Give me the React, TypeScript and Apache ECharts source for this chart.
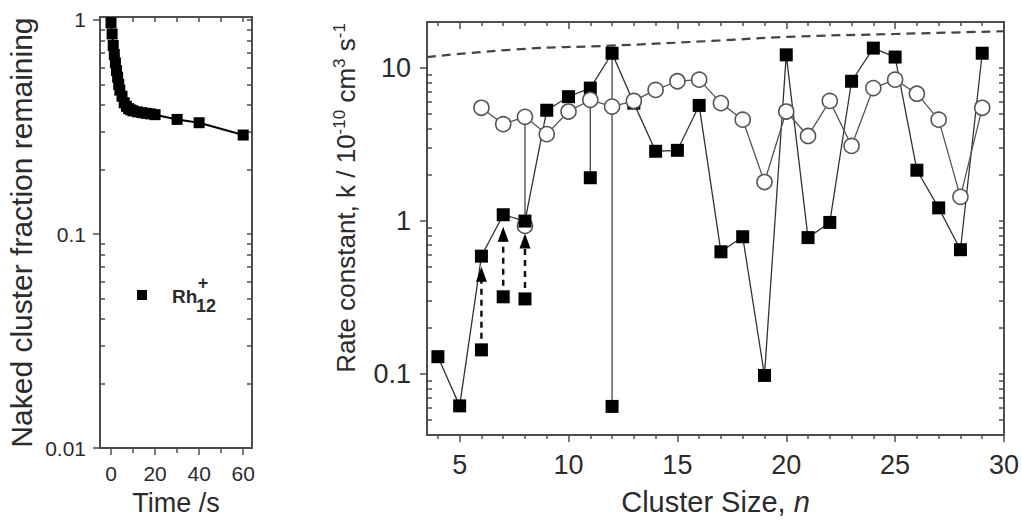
import React, { useEffect, useRef } from 'react';
import * as echarts from 'echarts';

// ---------- Left panel data (Rh12+ decay) ----------
const timeS = [0, 0.5, 1, 1.5, 2, 2.5, 3, 3.5, 4, 5, 6, 7, 8, 9, 10, 12, 14, 16, 18, 20, 30, 40, 60];
const fractionRemaining = [0.97, 0.86, 0.76, 0.69, 0.63, 0.58, 0.54, 0.5, 0.47, 0.44, 0.41, 0.395, 0.385, 0.38, 0.376, 0.372, 0.369, 0.366, 0.364, 0.361, 0.343, 0.331, 0.29];
const leftXLabels = [0, 20, 40, 60];
const leftXMinor = [10, 30, 50];
const leftXTop = [0, 10, 20, 30, 40, 50, 60];
const leftYLabels = [0.01, 0.1, 1];

// ---------- Right panel data (rate constants) ----------
const clusterSize = [4, 5, 6, 7, 8, 9, 10, 11, 12, 13, 14, 15, 16, 17, 18, 19, 20, 21, 22, 23, 24, 25, 26, 27, 28, 29];
const kFilled = [0.13, 0.062, 0.59, 1.1, 1.0, 5.3, 6.5, 7.4, 12.5, 5.9, 2.86, 2.9, 5.7, 0.63, 0.79, 0.098, 12.2, 0.78, 0.98, 8.2, 13.5, 11.8, 2.15, 1.22, 0.65, 12.5];
const clusterSizeOpen = [6, 7, 8, 9, 10, 11, 12, 13, 14, 15, 16, 17, 18, 19, 20, 21, 22, 23, 24, 25, 26, 27, 28, 29];
const kOpen = [5.5, 4.3, 4.8, 3.7, 5.2, 6.2, 5.6, 6.1, 7.2, 8.2, 8.4, 5.9, 4.6, 1.8, 5.2, 3.6, 6.1, 3.1, 7.4, 8.4, 6.8, 4.6, 1.44, 5.5];
const extraFilledN = [6, 7, 8, 11, 12];
const extraFilledK = [0.144, 0.32, 0.31, 1.92, 0.0615];
const triangleN = [6, 7, 8];
const triangleK = [0.45, 0.82, 0.74];
const extraOpenN = [8];
const extraOpenK = [0.93];
const solidLinkN = [8, 11, 12];
const solidLinkTop = [4.8, 7.4, 12.5];
const solidLinkBottom = [1.0, 1.92, 0.0615];
const dashLinkN = [6, 7, 8];
const dashLinkBottom = [0.144, 0.32, 0.31];
const dashLinkTop = [0.45, 0.82, 0.74];
const limitN = [3.5, 7.8, 11.9, 16.8, 20.1, 25, 30];
const limitK = [11.8, 13.3, 14.0, 15.1, 16.0, 16.7, 17.4];
const rightXLabels = [5, 10, 15, 20, 25, 30];
const rightXMinor = [4, 6, 7, 8, 9, 11, 12, 13, 14, 16, 17, 18, 19, 21, 22, 23, 24, 26, 27, 28, 29];
const rightYLabels = [0.1, 1, 10];

const leftYMinor: number[] = [];
for (const d of [0.01, 0.1]) for (let m = 2; m <= 9; m++) leftYMinor.push(+(m * d).toPrecision(2));
const rightYMinor: number[] = [];
for (const d of [0.01, 0.1, 1]) for (let m = 2; m <= 9; m++) {
  const v = +(m * d).toPrecision(2);
  if (v >= 0.04 && v <= 20) rightYMinor.push(v);
}

const FONT = "'Liberation Sans', Arial, Helvetica, sans-serif";
const AX = '#4d4d4d';
const TXT = '#2b2b2b';

const fmtLog = (v: number) => (v >= 1 ? String(Math.round(v)) : String(+v.toPrecision(2)));

function xAx(grid: number, min: number, max: number, o: any) {
  return {
    type: 'value', gridIndex: grid, min, max, position: o.position || 'bottom',
    splitLine: { show: false },
    axisLine: { show: o.line !== false, onZero: false, lineStyle: { color: AX, width: 2 } },
    axisTick: { show: true, inside: !!o.inside, length: o.len, customValues: o.ticks, lineStyle: { color: AX, width: 1.5 } },
    axisLabel: o.labels
      ? { show: true, customValues: o.labels, fontSize: o.fontSize, fontFamily: FONT, color: TXT, margin: o.margin }
      : { show: false },
    ...(o.extra || {}),
  };
}
function yAx(grid: number, min: number, max: number, o: any) {
  return {
    type: 'log', logBase: 10, gridIndex: grid, min, max, position: o.position || 'left',
    splitLine: { show: false },
    axisLine: { show: o.line !== false, onZero: false, lineStyle: { color: AX, width: 2 } },
    axisTick: { show: true, inside: !!o.inside, length: o.len, customValues: o.ticks, lineStyle: { color: AX, width: 1.5 } },
    axisLabel: o.labels
      ? { show: true, customValues: o.labels, fontSize: o.fontSize, fontFamily: FONT, color: TXT, margin: o.margin, formatter: (v: number) => fmtLog(v) }
      : { show: false },
    ...(o.extra || {}),
  };
}

export default function App() {
  const ref = useRef<HTMLDivElement>(null);
  useEffect(() => {
    if (!ref.current) return;
    const chart = echarts.init(ref.current, undefined, { renderer: 'svg' });

    const xAxis = [
      xAx(0, -5, 64, {
        ticks: leftXLabels, labels: leftXLabels, len: 7, fontSize: 21, margin: 15,
        extra: { name: 'Time /s', nameLocation: 'middle', nameGap: 37, nameTextStyle: { fontSize: 27, fontFamily: FONT, color: TXT } },
      }),
      xAx(0, -5, 64, { ticks: leftXMinor, len: 5, line: false }),
      xAx(0, -5, 64, { ticks: leftXTop, len: 5, inside: true, position: 'top' }),
      xAx(1, 3.5, 30, {
        ticks: rightXLabels, labels: rightXLabels, len: 7, fontSize: 27, margin: 16,
        extra: {
          name: '{a|Cluster Size, }{i|n}', nameLocation: 'middle', nameGap: 52,
          nameTextStyle: { rich: {
            a: { fontSize: 29, fontFamily: FONT, color: TXT },
            i: { fontSize: 29, fontFamily: FONT, color: TXT, fontStyle: 'italic' },
          } },
        },
      }),
      xAx(1, 3.5, 30, { ticks: rightXMinor, len: 4, line: false }),
      xAx(1, 3.5, 30, { ticks: rightXLabels, len: 7, inside: true, position: 'top' }),
      xAx(1, 3.5, 30, { ticks: rightXMinor, len: 4, inside: true, position: 'top', line: false }),
    ];

    const yAxis = [
      yAx(0, 0.01, 1.032, {
        ticks: leftYLabels, labels: leftYLabels, len: 7, fontSize: 21, margin: 14,
        extra: { name: 'Naked cluster fraction remaining', nameLocation: 'middle', nameGap: 64, nameTextStyle: { fontSize: 30, fontFamily: FONT, color: TXT } },
      }),
      yAx(0, 0.01, 1.032, { ticks: leftYMinor, len: 5, inside: true, line: false }),
      yAx(0, 0.01, 1.032, { ticks: [...leftYLabels, ...leftYMinor], len: 5, inside: true, position: 'right' }),
      yAx(1, 0.04, 20, { ticks: rightYLabels, labels: rightYLabels, len: 7, fontSize: 27, margin: 16 }),
      yAx(1, 0.04, 20, { ticks: rightYMinor, len: 5, inside: true, line: false }),
      yAx(1, 0.04, 20, { ticks: [...rightYLabels, ...rightYMinor], len: 5, inside: true, position: 'right' }),
    ];

    const filled = { color: '#000', opacity: 1 };
    const series: any[] = [
      {
        type: 'line', xAxisIndex: 0, yAxisIndex: 0, data: timeS.map((t, i) => [t, fractionRemaining[i]]),
        symbol: 'rect', symbolSize: 11, itemStyle: filled, lineStyle: { color: '#000', width: 2 }, z: 3,
      },
      {
        type: 'line', xAxisIndex: 3, yAxisIndex: 3, data: limitN.map((n, i) => [n, limitK[i]]), smooth: true,
        symbol: 'none', lineStyle: { color: '#444', width: 2.2, type: [9, 6] }, z: 1,
      },
    ];
    dashLinkN.forEach((n, i) => {
      series.push({
        type: 'line', xAxisIndex: 3, yAxisIndex: 3, data: [[n, dashLinkBottom[i]], [n, dashLinkTop[i]]],
        symbol: 'none', lineStyle: { color: '#111', width: 2.5, type: [6, 5] }, z: 2,
      });
    });
    solidLinkN.forEach((n, i) => {
      series.push({
        type: 'line', xAxisIndex: 3, yAxisIndex: 3, data: [[n, solidLinkTop[i]], [n, solidLinkBottom[i]]],
        symbol: 'none', lineStyle: { color: '#444', width: 1.3 }, z: 2,
      });
    });
    series.push(
      {
        type: 'line', xAxisIndex: 3, yAxisIndex: 3, data: clusterSize.map((n, i) => [n, kFilled[i]]),
        symbol: 'rect', symbolSize: 13, itemStyle: filled, lineStyle: { color: '#333', width: 1.3 }, z: 3,
      },
      {
        type: 'scatter', xAxisIndex: 3, yAxisIndex: 3, data: extraFilledN.map((n, i) => [n, extraFilledK[i]]),
        symbol: 'rect', symbolSize: 13, itemStyle: filled, z: 3,
      },
      {
        type: 'scatter', xAxisIndex: 3, yAxisIndex: 3, data: triangleN.map((n, i) => [n, triangleK[i]]),
        symbol: 'triangle', symbolSize: [11, 15], itemStyle: filled, z: 4,
      },
      {
        type: 'line', xAxisIndex: 3, yAxisIndex: 3, data: clusterSizeOpen.map((n, i) => [n, kOpen[i]]),
        symbol: 'circle', symbolSize: 15, itemStyle: { color: '#fff', borderColor: '#555', borderWidth: 1.6, opacity: 1 },
        lineStyle: { color: '#555', width: 1.3 }, z: 5,
      },
      {
        type: 'scatter', xAxisIndex: 3, yAxisIndex: 3, data: extraOpenN.map((n, i) => [n, extraOpenK[i]]),
        symbol: 'circle', symbolSize: 15, itemStyle: { color: '#fff', borderColor: '#555', borderWidth: 1.6, opacity: 1 }, z: 2,
      },
    );

    chart.setOption({
      animation: false,
      backgroundColor: '#fff',
      grid: [
        { left: 100, top: 17, width: 152, height: 435 },
        { left: 427, top: 22, width: 578, height: 413 },
      ],
      xAxis,
      yAxis,
      series,
      graphic: [
        { type: 'rect', shape: { x: 137, y: 290, width: 10, height: 10 }, style: { fill: '#000' } },
        { type: 'text', x: 172, y: 296, style: { text: 'Rh', fontSize: 19, fontWeight: 'bold', fontFamily: FONT, fill: TXT, verticalAlign: 'middle' } },
        { type: 'text', x: 203, y: 283, style: { text: '+', fontSize: 18, fontWeight: 'bold', fontFamily: FONT, fill: TXT, align: 'center', verticalAlign: 'middle' } },
        { type: 'text', x: 196, y: 306, style: { text: '12', fontSize: 18, fontWeight: 'bold', fontFamily: FONT, fill: TXT, verticalAlign: 'middle' } },
        {
          type: 'text', x: 346, y: 198, rotation: Math.PI / 2,
          style: {
            text: '{a|Rate constant, k / 10}{s|-10}{a| cm}{s|3}{a| s}{s|-1}',
            align: 'center', verticalAlign: 'middle',
            rich: {
              a: { fontSize: 26, fontFamily: FONT, fill: TXT, lineHeight: 31 },
              s: { fontSize: 17, fontFamily: FONT, fill: TXT, verticalAlign: 'top', lineHeight: 16 },
            },
          },
        },
      ],
    });
    return () => chart.dispose();
  }, []);
  return <div ref={ref} style={{ position: 'absolute', left: 0, top: 0, width: 1022, height: 521 }} />;
}
